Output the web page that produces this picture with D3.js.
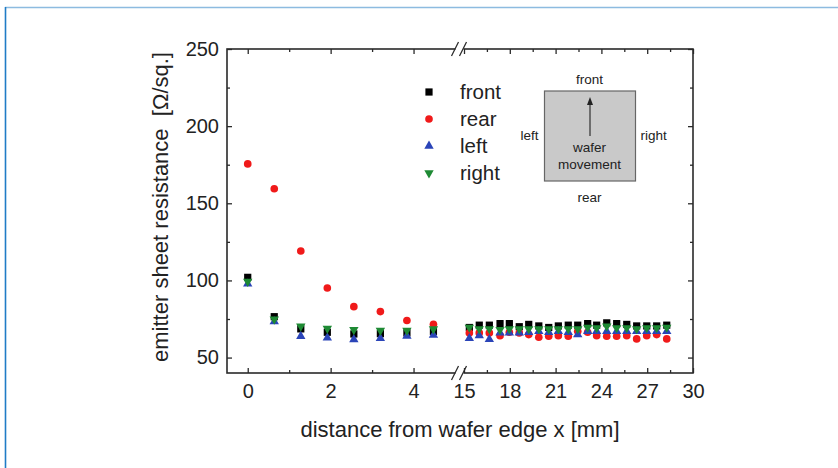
<!DOCTYPE html>
<html><head><meta charset="utf-8">
<script src="https://cdn.jsdelivr.net/npm/d3@7"></script>
<style>
html,body{margin:0;padding:0;background:#fff;}
svg{display:block;font-family:"Liberation Sans",Arial,sans-serif;}
</style></head>
<body>
<script>
// ---- data ----
const distance = [0, 0.64, 1.28, 1.92, 2.56, 3.2, 3.84, 4.48,
  15.35, 16.0, 16.66, 17.36, 17.97, 18.62, 19.24, 19.9, 20.55, 21.18, 21.83,
  22.45, 23.1, 23.69, 24.35, 25.0, 25.66, 26.31, 26.97, 27.62, 28.28];
const front = [102, 76.5, 68.6, 66.4, 65.3, 65.5, 66, 67,
  69.5, 71, 71, 72, 72, 70, 71.5, 70.5, 69.5, 70.5, 71, 71, 72, 71, 72.5, 72, 71.5, 70.5, 70.5, 70.5, 71];
const rear = [175.5, 159.4, 119.1, 95.1, 83, 79.8, 74, 71.6,
  66, 66, 66, 64.2, 66.4, 66, 64.9, 63.2, 63.8, 64.2, 63.8, 67, 66.4, 64.2, 63.8, 63.8, 64.2, 62.1, 64.2, 64.9, 62.1];
const left = [97.8, 73.3, 63.8, 62.8, 61.7, 62.5, 64, 64.6,
  62.5, 64.2, 61.8, 66, 66, 66, 66.4, 67, 66.4, 67, 66.4, 64.9, 67, 67, 67, 67, 67, 67, 67, 67, 67];
const right = [99.3, 74.8, 70.3, 68.8, 68, 67.5, 67.6, 68.5,
  69.6, 68.6, 68.6, 68.1, 68.6, 68.6, 68.6, 68.6, 68.6, 68.6, 68.6, 68.6, 69.6, 69.2, 70.3, 69.2, 69.2, 68.6, 69.2, 69.2, 69.6];
const seriesNames = ["front", "rear", "left", "right"];
const xMajorTicks = [0, 2, 4, 15, 18, 21, 24, 27, 30];
const xMinorTicks = [1, 3, 16.5, 19.5, 22.5, 25.5, 28.5];
const yMajorTicks = [50, 100, 150, 200, 250];
const yMinorTicks = [75, 125, 175, 225];
const inset = {top: "front", bottom: "rear", left: "left", right: "right", center: ["wafer", "movement"]};

// ---- layout ----
const W = 838, H = 468;
const box = {l: 227, r: 693, t: 49, b: 373};
const brk = {a: 455, b: 464};

const svg = d3.select("body").append("svg").attr("width", W).attr("height", H);

// page frame
svg.append("line").attr("x1", 5).attr("x2", W).attr("y1", 7.5).attr("y2", 7.5)
  .attr("stroke", "#8dbbe0").attr("stroke-width", 1.5);
svg.append("line").attr("x1", 5.5).attr("x2", 5.5).attr("y1", 7).attr("y2", H)
  .attr("stroke", "#1f7cc6").attr("stroke-width", 1.6);

const x = d3.scaleLinear().domain([-0.5, 5, 15, 30]).range([box.l, brk.a, brk.b, box.r]);
const y = d3.scaleLinear().domain([40, 250]).range([box.b, box.t]);

const colors = {front: "#000000", rear: "#f01a1a", left: "#2a44b8", right: "#1e8a34"};
const symbols = {
  front: {type: d3.symbolSquare, size: 52, rot: 0},
  rear: {type: d3.symbolCircle, size: 46, rot: 0},
  left: {type: d3.symbolTriangle, size: 38, rot: 0},
  right: {type: d3.symbolTriangle, size: 38, rot: 180}
};
const values = {front, rear, left, right};

const axisColor = "#2a2a2a";
const g = svg.append("g");

function styleAxis(sel){
  sel.select(".domain").remove();
  sel.selectAll("line").attr("stroke", axisColor).attr("stroke-width", 1.3);
  sel.selectAll("text").attr("fill", "#222").style("font-size", "20px");
}
g.append("g").attr("transform", `translate(0,${box.b})`)
  .call(d3.axisBottom(x).tickValues(xMajorTicks).tickSize(-5).tickPadding(11).tickFormat(d3.format("d")))
  .call(styleAxis).style("font-family", "Liberation Sans, Arial, sans-serif");
g.append("g").attr("transform", `translate(0,${box.b})`)
  .call(d3.axisBottom(x).tickValues(xMinorTicks).tickSize(-3).tickFormat(""))
  .call(styleAxis);
g.append("g").attr("transform", `translate(0,${box.t})`)
  .call(d3.axisTop(x).tickValues(xMajorTicks).tickSize(-5).tickFormat(""))
  .call(styleAxis);
g.append("g").attr("transform", `translate(0,${box.t})`)
  .call(d3.axisTop(x).tickValues(xMinorTicks).tickSize(-3).tickFormat(""))
  .call(styleAxis);
g.append("g").attr("transform", `translate(${box.l},0)`)
  .call(d3.axisLeft(y).tickValues(yMajorTicks).tickSize(-5).tickPadding(8).tickFormat(d3.format("d")))
  .call(styleAxis).style("font-family", "Liberation Sans, Arial, sans-serif");
g.append("g").attr("transform", `translate(${box.l},0)`)
  .call(d3.axisLeft(y).tickValues(yMinorTicks).tickSize(-3).tickFormat(""))
  .call(styleAxis);
g.append("g").attr("transform", `translate(${box.r},0)`)
  .call(d3.axisRight(y).tickValues(yMajorTicks).tickSize(-5).tickFormat(""))
  .call(styleAxis);
g.append("g").attr("transform", `translate(${box.r},0)`)
  .call(d3.axisRight(y).tickValues(yMinorTicks).tickSize(-3).tickFormat(""))
  .call(styleAxis);

// frame
g.append("rect").attr("x", box.l).attr("y", box.t).attr("width", box.r - box.l).attr("height", box.b - box.t)
  .attr("fill", "none").attr("stroke", axisColor).attr("stroke-width", 1.6);

// axis breaks
[box.t, box.b].forEach(yy => {
  g.append("rect").attr("x", brk.a + 0.5).attr("y", yy - 2).attr("width", brk.b - brk.a - 1).attr("height", 4).attr("fill", "#fff");
  [brk.a, brk.b - 1].forEach(xx => {
    g.append("line").attr("x1", xx - 3.5).attr("y1", yy + 7).attr("x2", xx + 3.5).attr("y2", yy - 7)
      .attr("stroke", axisColor).attr("stroke-width", 1.3);
  });
});

// points
seriesNames.forEach(name => {
  const s = symbols[name];
  const sym = d3.symbol().type(s.type).size(s.size);
  g.append("g").selectAll("path").data(values[name]).join("path")
    .attr("d", sym)
    .attr("transform", (d, i) => `translate(${x(distance[i])},${y(d)}) rotate(${s.rot})`)
    .attr("fill", colors[name]);
});

// axis titles
svg.append("text").attr("x", (box.l + box.r) / 2).attr("y", 437)
  .attr("text-anchor", "middle").style("font-size", "22px").attr("fill", "#222")
  .text("distance from wafer edge x [mm]");
svg.append("text").attr("transform", `translate(168,207) rotate(-90)`)
  .attr("text-anchor", "middle").style("font-size", "22px").attr("fill", "#222")
  .style("white-space", "pre")
  .text("emitter sheet resistance  [Ω/sq.]");

// legend
const leg = svg.append("g").attr("transform", "translate(429,92)");
seriesNames.forEach((name, i) => {
  const s = symbols[name];
  leg.append("path").attr("d", d3.symbol().type(s.type).size(s.size)())
    .attr("transform", `translate(0,${i * 27}) rotate(${s.rot})`).attr("fill", colors[name]);
  leg.append("text").attr("x", 31).attr("y", i * 27).attr("dy", "0.35em")
    .style("font-size", "20.5px").attr("fill", "#222").text(name);
});

// inset
const ins = svg.append("g");
ins.append("rect").attr("x", 544.5).attr("y", 91).attr("width", 91).attr("height", 90)
  .attr("fill", "#c9c9c9").attr("stroke", "#666").attr("stroke-width", 1.2);
const insText = (tx, ty, t, anchor) => ins.append("text").attr("x", tx).attr("y", ty)
  .attr("text-anchor", anchor || "middle").style("font-size", "13.5px").attr("fill", "#222").text(t);
insText(589.5, 84, inset.top);
insText(589.5, 202, inset.bottom);
insText(529.5, 140, inset.left);
insText(640.5, 140, inset.right, "start");
insText(589.5, 152, inset.center[0]);
insText(589.5, 169, inset.center[1]);
ins.append("line").attr("x1", 590).attr("x2", 590).attr("y1", 136).attr("y2", 103)
  .attr("stroke", "#222").attr("stroke-width", 1.1);
ins.append("path").attr("d", "M590,97 L587,105 L593,105 Z").attr("fill", "#222");
</script>
</body></html>
